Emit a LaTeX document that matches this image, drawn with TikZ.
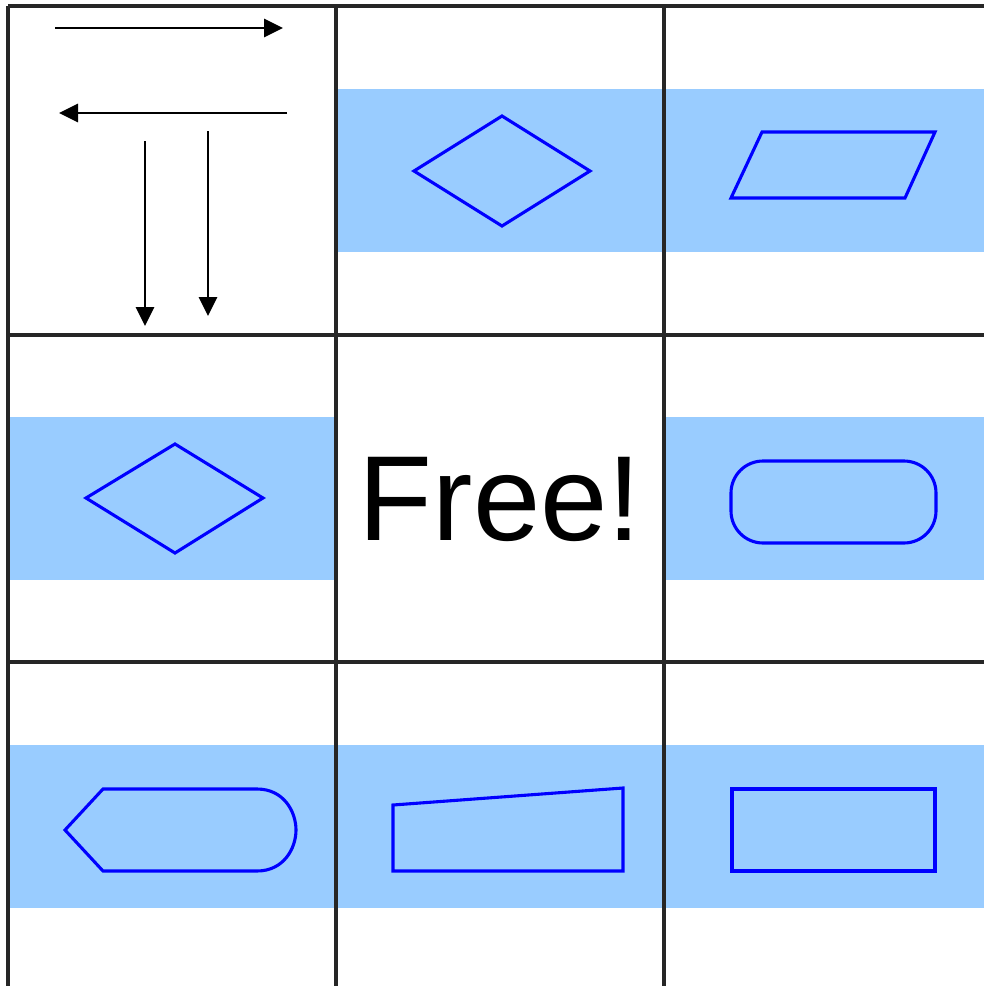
\documentclass[tikz,border=0pt]{standalone}
\usepackage{fontspec}
\setmainfont{Liberation Sans}
\usetikzlibrary{arrows.meta}
\definecolor{bandblue}{HTML}{99CCFF}
\definecolor{shapeblue}{HTML}{0000FF}
\tikzset{
  grid line/.style={line width=3.2pt, draw=black!85},
  band/.style={fill=bandblue, draw=none},
  fshape/.style={draw=shapeblue, line width=3.1pt, line join=miter},
  arr/.style={line width=2.8pt, -{Triangle[length=19pt,width=18pt]}},
}
\begin{document}
\begin{tikzpicture}[x=1pt,y=-1pt]
\useasboundingbox (0,0) rectangle (984,986);
% bands
\fill[band] (336,89) rectangle (984,252);
\fill[band] (8,417) rectangle (336,580);
\fill[band] (664,417) rectangle (984,580);
\fill[band] (8,745) rectangle (984,908);
% grid
\foreach \yy in {6,335,662} \draw[grid line] (8,\yy) -- (986,\yy);
\foreach \xx in {8,336,664} \draw[grid line] (\xx,6) -- (\xx,990);
% arrows in first cell
\coordinate (a1s) at (55,28);  \coordinate (a1e) at (283,28);
\coordinate (a2s) at (287,113); \coordinate (a2e) at (59,113);
\coordinate (a3s) at (145,141); \coordinate (a3e) at (145,326);
\coordinate (a4s) at (208,131); \coordinate (a4e) at (208,316);
\draw[arr] (a1s) -- (a1e);
\draw[arr] (a2s) -- (a2e);
\draw[arr] (a3s) -- (a3e);
\draw[arr] (a4s) -- (a4e);
% shapes
\draw[fshape] (414,171) -- (502,116) -- (590,171) -- (502,226) -- cycle;
\draw[fshape] (762,132) -- (935,132) -- (905,198) -- (731,198) -- cycle;
\draw[fshape] (86,498) -- (175,444) -- (263,498) -- (175,553) -- cycle;
\node[font=\fontsize{121}{125}\selectfont, inner sep=0pt] (free) at (500,499) {Free!};
\draw[fshape, rounded corners=32pt] (731,461) rectangle (936,543);
\draw[fshape] (65,830) -- (103,789) -- (257,789)
  .. controls (284,789) and (296,812) .. (296,830)
  .. controls (296,848) and (284,871) .. (257,871)
  -- (103,871) -- cycle;
\draw[fshape] (393,805) -- (623,788) -- (623,871) -- (393,871) -- cycle;
\draw[fshape] (732,789) rectangle (935,871);
\end{tikzpicture}
\end{document}
